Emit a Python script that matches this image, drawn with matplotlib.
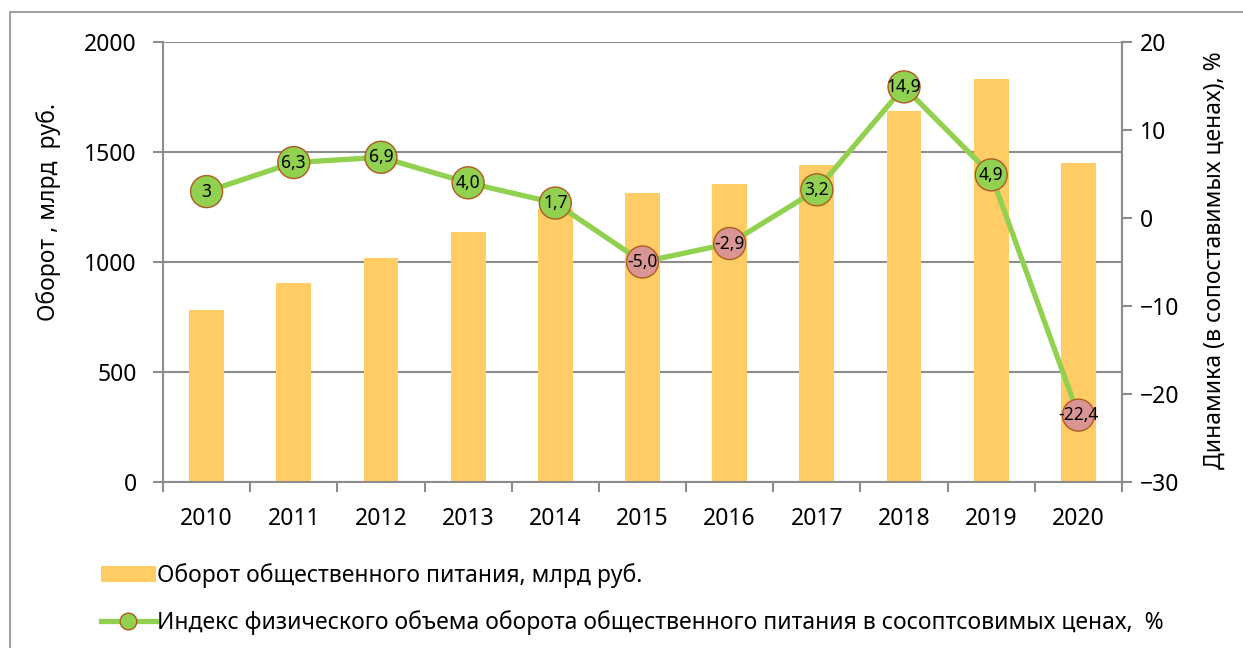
import matplotlib
matplotlib.use("Agg")
import matplotlib.pyplot as plt
from matplotlib.patches import Rectangle
from matplotlib.lines import Line2D

plt.rcParams['font.family'] = ['Noto Sans', 'DejaVu Sans']

# data
years = ['2010', '2011', '2012', '2013', '2014', '2015', '2016', '2017', '2018', '2019', '2020']
turnover = [782, 905, 1020, 1135, 1240, 1312, 1355, 1440, 1686, 1830, 1452]
index_pct = [3, 6.3, 6.9, 4.0, 1.7, -5.0, -2.9, 3.2, 14.9, 4.9, -22.4]
point_labels = ['3', '6,3', '6,9', '4,0', '1,7', '-5,0', '-2,9', '3,2', '14,9', '4,9', '-22,4']

bar_label = 'Оборот общественного питания, млрд руб.'
line_label = 'Индекс физического объема оборота общественного питания в сосоптсовимых ценах,  %'

bar_color = '#FFCC66'
line_color = '#92D050'
neg_color = '#D99594'
edge_color = '#B05A1E'
grid_color = '#8C8C8C'

fig = plt.figure(figsize=(12.43, 6.48), dpi=100)
ax = fig.add_axes([163 / 1243, 1 - 482 / 648, (1122 - 163) / 1243, 440 / 648])

x = list(range(len(years)))
ax.bar(x, turnover, width=0.4, color=bar_color, zorder=2)
ax.set_ylim(0, 2000)
ax.set_xlim(-0.5, len(years) - 0.5)
ax.set_yticks([0, 500, 1000, 1500, 2000])
ax.yaxis.grid(True, color=grid_color, linewidth=1.5, zorder=0)
ax.set_axisbelow(True)
ax.set_ylabel('Оборот , млрд  руб.', fontsize=16.5)
ax.yaxis.set_label_coords(-0.106, 0.614)

# year labels in the middle, tick marks on category boundaries
ax.set_xticks(x)
ax.set_xticklabels(years)
ax.tick_params(axis='x', which='major', length=0, labelsize=16.5, pad=18)
ax.set_xticks([i - 0.5 for i in range(len(years) + 1)], minor=True)
ax.tick_params(axis='x', which='minor', length=7, width=1.5, color=grid_color, direction='out')
ax.tick_params(axis='y', labelsize=16.5, length=7, width=1.5, color=grid_color, pad=12)

for side in ['left', 'bottom', 'right']:
    ax.spines[side].set_color(grid_color)
    ax.spines[side].set_linewidth(1.5)
ax.spines['top'].set_visible(False)

ax2 = ax.twinx()
ax2.set_ylim(-30, 20)
ax2.set_yticks([-30, -20, -10, 0, 10, 20])
ax2.tick_params(axis='y', labelsize=16.5, length=7, width=1.5, color=grid_color, pad=6)
for side in ['left', 'bottom', 'right', 'top']:
    ax2.spines[side].set_visible(False)
ax2.spines['right'].set_visible(True)
ax2.spines['right'].set_color(grid_color)
ax2.spines['right'].set_linewidth(1.5)
ax2.set_ylabel('Динамика (в сопоставимых ценах), %', fontsize=16.5)
ax2.yaxis.set_label_coords(1.084, 0.505)

ax2.plot(x, index_pct, color=line_color, linewidth=3.8, zorder=3)
face = [line_color if v >= 0 else neg_color for v in index_pct]
ax2.scatter(x, index_pct, s=530, c=face, edgecolors=edge_color, linewidths=1.0, zorder=4)
for xi, v, lab in zip(x, index_pct, point_labels):
    ax2.text(xi, v, lab, ha='center', va='center', fontsize=12.5, zorder=5)

# legend under the plot
h_bar = Rectangle((0, 0), 1, 1, facecolor=bar_color, edgecolor='none')
h_line = Line2D([], [], color=line_color, linewidth=3.8, marker='o', markersize=12,
                markerfacecolor=line_color, markeredgecolor=edge_color)
fig.legend([h_bar, h_line], [bar_label, line_label], loc='upper left',
           bbox_to_anchor=(80 / 1243, 1 - 543 / 648), frameon=False, fontsize=16.5,
           handlelength=2.4, handletextpad=0.05, labelspacing=0.95)

# outer chart frame
fig.patches.append(Rectangle((10 / 1243, -0.1), 1.2, 1 - 12 / 648 + 0.1,
                             transform=fig.transFigure, fill=False,
                             edgecolor='#8C8C8C', linewidth=1.2))

fig.savefig('out.png', dpi=100)
